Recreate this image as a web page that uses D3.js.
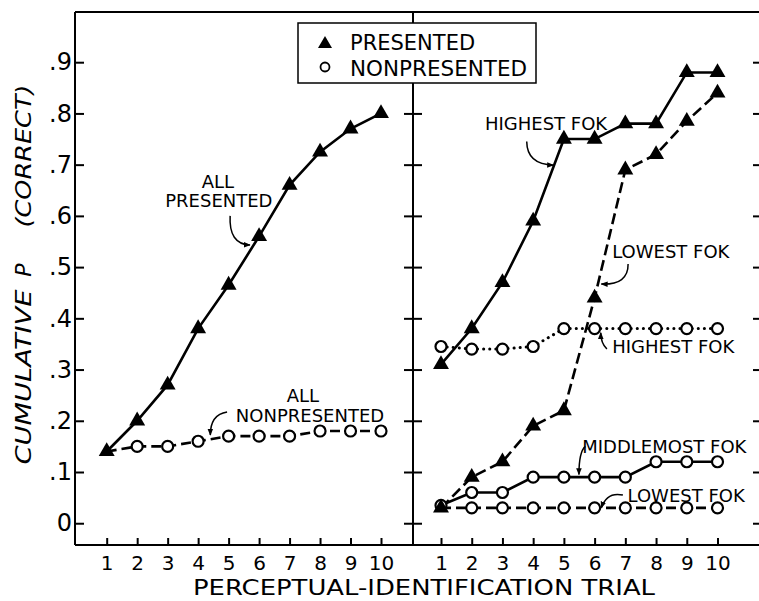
<!DOCTYPE html>
<html>
<head>
<meta charset="utf-8">
<script src="https://cdn.jsdelivr.net/npm/d3@7/dist/d3.min.js"></script>
<style>
  html, body { margin: 0; padding: 0; background: #fff; }
  svg { display: block; }
  text { font-family: "DejaVu Sans", "Liberation Sans", sans-serif; fill: #000; }
</style>
</head>
<body>
<svg id="chart" width="759" height="601"></svg>
<script>
// ---------------- data ----------------
const trials = [1, 2, 3, 4, 5, 6, 7, 8, 9, 10];
const yTickValues = [0, 0.1, 0.2, 0.3, 0.4, 0.5, 0.6, 0.7, 0.8, 0.9];
const yTickLabels = ["0", ".1", ".2", ".3", ".4", ".5", ".6", ".7", ".8", ".9"];

// Left panel
const allPresented    = [0.14, 0.20, 0.27, 0.38, 0.465, 0.56, 0.66, 0.725, 0.77, 0.80];
const allNonpresented = [0.14, 0.15, 0.15, 0.16, 0.17, 0.17, 0.17, 0.18, 0.18, 0.18];

// Right panel
const highestPresented    = [0.31, 0.38, 0.47, 0.59, 0.75, 0.75, 0.78, 0.78, 0.88, 0.88];
const lowestPresented     = [0.03, 0.09, 0.12, 0.19, 0.22, 0.44, 0.69, 0.72, 0.785, 0.84];
const highestNonpresented = [0.345, 0.34, 0.34, 0.345, 0.38, 0.38, 0.38, 0.38, 0.38, 0.38];
const middleNonpresented  = [0.035, 0.06, 0.06, 0.09, 0.09, 0.09, 0.09, 0.12, 0.12, 0.12];
const lowestNonpresented  = [0.03, 0.03, 0.03, 0.03, 0.03, 0.03, 0.03, 0.03, 0.03, 0.03];

const legendLabels = ["PRESENTED", "NONPRESENTED"];
const xTitle = "PERCEPTUAL-IDENTIFICATION TRIAL";

// ---------------- layout ----------------
const svg = d3.select("#chart");
const topY = 12, bottomY = 545;
const leftX0 = 75, divX = 413, rightX1 = 759;

const y = d3.scaleLinear().domain([-0.0425, 0.998]).range([bottomY, topY]);
const xL = d3.scaleLinear().domain([1, 10]).range([106.7, 381]);
const xR = d3.scaleLinear().domain([1, 10]).range([441, 717.5]);

// frame
const frame = svg.append("g").attr("stroke", "#000").attr("stroke-width", 2).attr("fill", "none");
frame.append("line").attr("x1", leftX0).attr("x2", rightX1 + 2).attr("y1", topY).attr("y2", topY);
frame.append("line").attr("x1", leftX0).attr("x2", rightX1 + 2).attr("y1", bottomY).attr("y2", bottomY);
frame.append("line").attr("x1", leftX0).attr("x2", leftX0).attr("y1", topY).attr("y2", bottomY);
frame.append("line").attr("x1", divX).attr("x2", divX).attr("y1", topY).attr("y2", bottomY);

function styleAxis(g) {
  g.select(".domain").remove();
  g.selectAll(".tick line").attr("stroke", "#000").attr("stroke-width", 2);
}

// left y axis with labels
svg.append("g").attr("transform", `translate(${leftX0},0)`)
  .call(d3.axisLeft(y).tickValues(yTickValues).tickSizeInner(-9).tickSizeOuter(0).tickPadding(3)
    .tickFormat((d, i) => yTickLabels[i]))
  .call(styleAxis)
  .call(g => g.selectAll(".tick text").attr("font-size", 24).attr("fill", "#000")
    .attr("font-family", "DejaVu Sans, sans-serif"));

// divider ticks (both sides)
svg.append("g").attr("transform", `translate(${divX},0)`)
  .call(d3.axisLeft(y).tickValues(yTickValues).tickSize(9).tickFormat(""))
  .call(styleAxis);
svg.append("g").attr("transform", `translate(${divX},0)`)
  .call(d3.axisRight(y).tickValues(yTickValues).tickSize(9).tickFormat(""))
  .call(styleAxis);

// right edge ticks
svg.append("g").attr("transform", `translate(${rightX1 + 1},0)`)
  .call(d3.axisLeft(y).tickValues(yTickValues).tickSize(7).tickFormat(""))
  .call(styleAxis);

// bottom axes
[xL, xR].forEach(sc => {
  svg.append("g").attr("transform", `translate(0,${bottomY})`)
    .call(d3.axisBottom(sc).tickValues(trials).tickSizeInner(-7).tickSizeOuter(0).tickPadding(11)
      .tickFormat(d3.format("d")))
    .call(styleAxis)
    .call(g => g.selectAll(".tick text").attr("font-size", 20).attr("fill", "#000")
      .attr("font-family", "DejaVu Sans, sans-serif"));
});

// axis titles
svg.append("text").attr("x", 424).attr("y", 595).attr("text-anchor", "middle")
  .attr("font-size", 22).attr("textLength", 462).attr("lengthAdjust", "spacingAndGlyphs")
  .text(xTitle);

const yTitle = svg.append("g").attr("font-style", "italic").attr("font-size", 22);
[["CUMULATIVE", 377, 175], ["P", 270, 0], ["(CORRECT)", 156, 143]].forEach(([t, cy, len]) => {
  const tx = yTitle.append("text").attr("transform", `translate(31,${cy}) rotate(-90)`)
    .attr("text-anchor", "middle").text(t);
  if (len) tx.attr("textLength", len).attr("lengthAdjust", "spacingAndGlyphs");
});

// ---------------- series ----------------
const triangle = d3.symbol().type(d3.symbolTriangle).size(110);

function drawSeries(xs, values, opts) {
  const pts = trials.map((t, i) => [xs(t), y(values[i])]);
  svg.append("path").attr("d", d3.line()(pts))
    .attr("fill", "none").attr("stroke", "#000").attr("stroke-width", opts.width || 2.6)
    .attr("stroke-dasharray", opts.dash || null)
    .attr("stroke-linecap", opts.cap || "butt");
  return pts;
}
function drawMarkers(pts, kind, skipFirst) {
  const g = svg.append("g");
  pts.forEach((p, i) => {
    if (skipFirst && i === 0) return;
    if (kind === "tri") {
      g.append("path").attr("d", triangle()).attr("transform", `translate(${p[0]},${p[1]})`)
        .attr("fill", "#000");
    } else {
      g.append("circle").attr("cx", p[0]).attr("cy", p[1]).attr("r", 5.5)
        .attr("fill", "#fff").attr("stroke", "#000").attr("stroke-width", 2.2);
    }
  });
}

// left panel
const pAllNon = drawSeries(xL, allNonpresented, { dash: "10,5" });
const pAllPres = drawSeries(xL, allPresented, {});
drawMarkers(pAllNon, "circ", true);
drawMarkers(pAllPres, "tri");

// right panel
const pLowNon = drawSeries(xR, lowestNonpresented, { dash: "10,5" });
const pMidNon = drawSeries(xR, middleNonpresented, {});
const pHiNon = drawSeries(xR, highestNonpresented, { dash: "0.1,6", width: 3, cap: "round" });
const pLowPres = drawSeries(xR, lowestPresented, { dash: "11,5" });
const pHiPres = drawSeries(xR, highestPresented, {});
drawMarkers(pLowNon, "circ", true);
drawMarkers(pMidNon, "circ");
drawMarkers(pHiNon, "circ");
drawMarkers(pLowPres, "tri");
drawMarkers(pHiPres, "tri");

// ---------------- legend ----------------
const lg = svg.append("g");
lg.append("rect").attr("x", 298).attr("y", 23).attr("width", 238).attr("height", 60)
  .attr("fill", "#fff").attr("stroke", "#000").attr("stroke-width", 1.5);
lg.append("path").attr("d", d3.symbol().type(d3.symbolTriangle).size(85)())
  .attr("transform", "translate(325,44)").attr("fill", "#000");
lg.append("circle").attr("cx", 325).attr("cy", 67).attr("r", 4.5)
  .attr("fill", "#fff").attr("stroke", "#000").attr("stroke-width", 1.8);
lg.append("text").attr("x", 350).attr("y", 50).attr("font-size", 21).text(legendLabels[0]);
lg.append("text").attr("x", 350).attr("y", 76).attr("font-size", 21)
  .attr("textLength", 177).attr("lengthAdjust", "spacingAndGlyphs").text(legendLabels[1]);

// ---------------- annotations (data coordinates) ----------------
const annotations = [
  { xs: xL, lines: [["ALL", 4.65, 0.654], ["PRESENTED", 4.68, 0.617]],
    arrow: [[5.05, 0.600], [5.00, 0.545], [5.70, 0.543]] },
  { xs: xL, lines: [["ALL", 7.44, 0.236], ["NONPRESENTED", 7.67, 0.197]],
    arrow: [[4.95, 0.217], [4.40, 0.212], [4.40, 0.172]] },
  { xs: xR, lines: [["HIGHEST FOK", 4.42, 0.767]],
    arrow: [[3.79, 0.745], [3.80, 0.700], [4.66, 0.699]] },
  { xs: xR, lines: [["LOWEST FOK", 8.48, 0.517]],
    arrow: [[7.09, 0.506], [7.10, 0.465], [6.22, 0.467]] },
  { xs: xR, lines: [["HIGHEST FOK", 8.56, 0.332]],
    arrow: [[6.40, 0.340], [6.20, 0.352], [6.20, 0.372]] },
  { xs: xR, lines: [["MIDDLEMOST FOK", 8.27, 0.137]],
    arrow: [[5.70, 0.150], [5.49, 0.140], [5.49, 0.095]] },
  { xs: xR, lines: [["LOWEST FOK", 8.98, 0.042]],
    arrow: [[6.92, 0.055], [6.40, 0.062], [6.22, 0.030]] }
];

const defs = svg.append("defs");
defs.append("marker").attr("id", "ah").attr("viewBox", "0 0 10 10").attr("refX", 9).attr("refY", 5)
  .attr("markerWidth", 7).attr("markerHeight", 7).attr("markerUnits", "userSpaceOnUse")
  .attr("orient", "auto")
  .append("path").attr("d", "M0,1 L10,5 L0,9 Z").attr("fill", "#000");

annotations.forEach(a => {
  a.lines.forEach(([t, tx, ty]) => {
    svg.append("text").attr("x", a.xs(tx)).attr("y", y(ty)).attr("text-anchor", "middle")
      .attr("font-size", 18).text(t);
  });
  const p = a.arrow.map(([t, v]) => [a.xs(t), y(v)]);
  svg.append("path")
    .attr("d", `M${p[0][0]},${p[0][1]} Q${p[1][0]},${p[1][1]} ${p[2][0]},${p[2][1]}`)
    .attr("fill", "none").attr("stroke", "#000").attr("stroke-width", 1.5)
    .attr("marker-end", "url(#ah)");
});
</script>
</body>
</html>
